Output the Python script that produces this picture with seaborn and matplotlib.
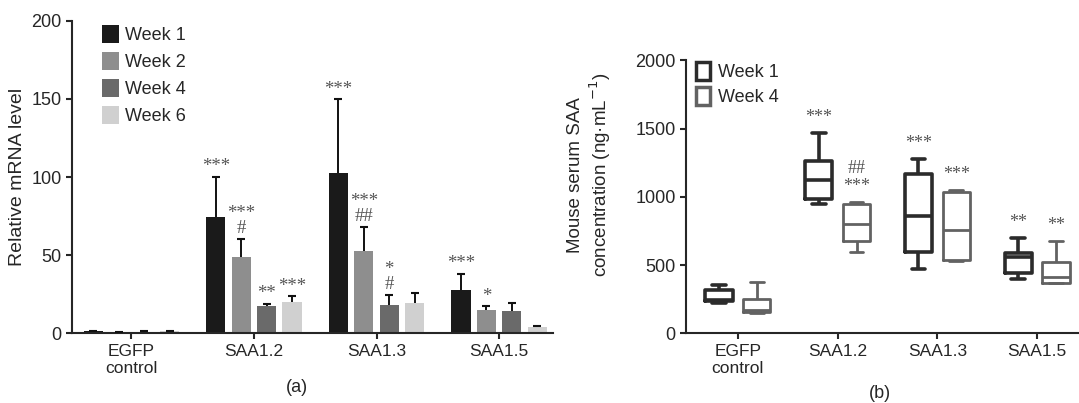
import numpy as np
import pandas as pd
import matplotlib
matplotlib.use('Agg')
import matplotlib.pyplot as plt
import matplotlib.colors as mcolors
import seaborn as sns
from matplotlib.patches import Patch

genes = ['EGFP\ncontrol', 'SAA1.2', 'SAA1.3', 'SAA1.5']

# (a) relative mRNA level: mean and SD per week
weeks_a = ['Week 1', 'Week 2', 'Week 4', 'Week 6']
mean_w1 = [1.5, 74.3, 102.3, 28.0]
mean_w2 = [0.8, 48.6, 52.9, 15.1]
mean_w4 = [1.2, 17.4, 18.0, 14.2]
mean_w6 = [1.5, 19.9, 19.5, 4.0]
sd_w1 = [0.3, 25.9, 47.6, 10.2]
sd_w2 = [0.2, 11.9, 15.4, 2.3]
sd_w4 = [0.3, 1.7, 6.8, 5.3]
sd_w6 = [0.3, 3.9, 6.6, 0.8]
sig_w1 = ['', '***', '***', '***']
sig_w2 = ['', '***\n#', '***\n##', '*']
sig_w4 = ['', '**', '*\n#', '']
sig_w6 = ['', '***', '', '']

# (b) serum SAA: min, Q1, median, Q3, max per group
weeks_b = ['Week 1', 'Week 4']
box_w1_egfp = [225, 235, 245, 320, 352]
box_w1_saa12 = [945, 985, 1125, 1260, 1470]
box_w1_saa13 = [472, 595, 860, 1165, 1276]
box_w1_saa15 = [400, 440, 560, 588, 702]
box_w4_egfp = [150, 160, 175, 255, 380]
box_w4_saa12 = [600, 675, 805, 950, 960]
box_w4_saa13 = [530, 540, 755, 1035, 1050]
box_w4_saa15 = [370, 372, 415, 525, 680]
sigb_w1 = ['', '***', '***', '**']
sigb_w4 = ['', '##\n***', '***', '**']

colors_a = ['#1a1a1a', '#8e8e8e', '#6a6a6a', '#d0d0d0']
colors_b = ['#2b2b2b', '#626262']
star_color = '#555555'

sns.set_style('ticks')
plt.rcParams['font.family'] = ['Liberation Sans', 'DejaVu Sans']
plt.rcParams['axes.linewidth'] = 1.5
plt.rcParams['xtick.major.width'] = 1.5
plt.rcParams['ytick.major.width'] = 1.5
plt.rcParams['xtick.major.size'] = 4
plt.rcParams['ytick.major.size'] = 4

fig = plt.figure(figsize=(10.79, 4.03), dpi=100)
ax1 = fig.add_axes([0.0667, 0.1725, 0.4458, 0.7765])
ax2 = fig.add_axes([0.6358, 0.1725, 0.3642, 0.6776])

# ---- panel (a) ----
df_a = pd.DataFrame({
    'gene': genes * 4,
    'week': np.repeat(weeks_a, 4),
    'mean': mean_w1 + mean_w2 + mean_w4 + mean_w6,
})
sns.barplot(data=df_a, x='gene', y='mean', hue='week', palette=colors_a,
            width=0.83, gap=0.24, errorbar=None, saturation=1, linewidth=0,
            legend=False, ax=ax1)

for cont, sds, sigs in zip(ax1.containers, [sd_w1, sd_w2, sd_w4, sd_w6],
                           [sig_w1, sig_w2, sig_w4, sig_w6]):
    for bar, sd, sig in zip(cont.patches, sds, sigs):
        x = bar.get_x() + bar.get_width() / 2
        h = bar.get_height()
        _, caps, _ = ax1.errorbar([x], [h], yerr=[[0], [sd]], fmt='none',
                                  ecolor='#111111', elinewidth=1.4,
                                  capsize=3, capthick=1.5, zorder=3)
        for c in caps:
            if np.allclose(c.get_ydata(), h):
                c.remove()
        if sig:
            ax1.annotate(sig, (x, h + sd), xytext=(0, 1), textcoords='offset points',
                         ha='center', va='bottom', fontsize=13.5, color=star_color,
                         family='Liberation Serif', linespacing=0.85)

ax1.set_ylim(0, 200)
ax1.set_yticks([0, 50, 100, 150, 200])
ax1.set_xlim(-0.485, 3.44)
ax1.set_xlabel('')
ax1.set_ylabel('Relative mRNA level', fontsize=14)
ax1.tick_params(axis='y', labelsize=13)
ax1.tick_params(axis='x', labelsize=12.5)
sns.despine(ax=ax1)
ax1.legend(handles=[Patch(facecolor=c, edgecolor='none') for c in colors_a],
           labels=weeks_a, loc='upper left', bbox_to_anchor=(0.062, 0.985),
           frameon=False, fontsize=13, handlelength=0.95, handleheight=1.17,
           handletextpad=0.35, labelspacing=0.42, borderpad=0, borderaxespad=0)

# ---- panel (b) ----
rows = []
for week, boxes in zip(weeks_b, [[box_w1_egfp, box_w1_saa12, box_w1_saa13, box_w1_saa15],
                                 [box_w4_egfp, box_w4_saa12, box_w4_saa13, box_w4_saa15]]):
    for gene, vals in zip(genes, boxes):
        for v in vals:
            rows.append({'gene': gene, 'week': week, 'conc': v})
df_b = pd.DataFrame(rows)

box_width = 0.76
sns.boxplot(data=df_b, x='gene', y='conc', hue='week', palette=colors_b,
            fill=False, width=box_width, gap=0.28, whis=(0, 100), linewidth=2.3,
            legend=False, ax=ax2)
# week 1 boxes are drawn with a heavier line
for ln in ax2.lines:
    if mcolors.to_hex(ln.get_color()) == colors_b[1]:
        ln.set_linewidth(2.0)
    else:
        ln.set_linewidth(2.6)

tops = df_b.groupby(['week', 'gene'])['conc'].max()
for wi, sigs in enumerate([sigb_w1, sigb_w4]):
    offset = (wi - 0.5) * box_width / 2
    for gi, sig in enumerate(sigs):
        if sig:
            top = tops[(weeks_b[wi], genes[gi])]
            ax2.annotate(sig, (gi + offset, top), xytext=(0, 5), textcoords='offset points',
                         ha='center', va='bottom', fontsize=13, color=star_color,
                         family='Liberation Serif', linespacing=1.15)

ax2.set_ylim(0, 2000)
ax2.set_yticks([0, 500, 1000, 1500, 2000])
ax2.set_xlim(-0.52, 3.42)
ax2.set_xlabel('')
ax2.set_ylabel('Mouse serum SAA\nconcentration (ng·mL$^{-1}$)', fontsize=13.5)
ax2.yaxis.set_label_coords(-0.185, 0.58)
ax2.tick_params(axis='y', labelsize=13)
ax2.tick_params(axis='x', labelsize=12.5)
sns.despine(ax=ax2)
ax2.legend(handles=[Patch(facecolor='white', edgecolor=c, linewidth=2.5) for c in colors_b],
           labels=weeks_b, loc='upper left', bbox_to_anchor=(0.025, 0.995),
           frameon=False, fontsize=13, handlelength=0.8, handleheight=1.2,
           handletextpad=0.45, labelspacing=0.3, borderpad=0, borderaxespad=0)

fig.text(297 / 1079, 1 - 388 / 403, '(a)', ha='center', va='center', fontsize=13)
fig.text(880 / 1079, 1 - 393 / 403, '(b)', ha='center', va='center', fontsize=13)

fig.savefig('out.png', dpi=100)
